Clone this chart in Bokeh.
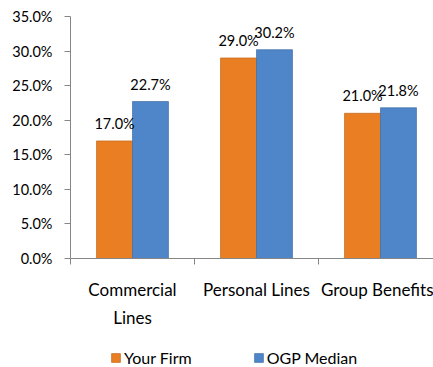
from bokeh.plotting import figure
from bokeh.layouts import column
from bokeh.models import FixedTicker, Range1d, Legend, LegendItem
from bokeh.embed import file_html
from bokeh.resources import INLINE

categories = ["Commercial Lines", "Personal Lines", "Group Benefits"]
tick_labels = ["Commercial\nLines", "Personal Lines", "Group Benefits"]
series_names = ["Your Firm", "OGP Median"]
your_firm = [17.0, 29.0, 21.0]
ogp_median = [22.7, 30.2, 21.8]
y_ticks = [0, 5, 10, 15, 20, 25, 30, 35]

FONT = "Lato"
ORANGE = "#E97F22"
ORANGE_EDGE = "#C4661A"
BLUE = "#4F86C9"
BLUE_EDGE = "#3F6EA6"
AXIS = "#868686"

p = figure(width=433, height=330, output_backend="svg", toolbar_location=None,
           x_range=Range1d(0, 363 / 124), y_range=Range1d(0, 35),
           min_border_left=70, min_border_right=0, min_border_top=16,
           min_border_bottom=72)
p.outline_line_color = None
p.xgrid.grid_line_color = None
p.ygrid.grid_line_color = None

n = len(categories)
centers = [i + 0.5 for i in range(n)]
bw = 0.29
x_firm = [c - bw / 2 for c in centers]
x_ogp = [c + bw / 2 for c in centers]

r1 = p.vbar(x=x_firm, top=your_firm, bottom=0, width=bw, fill_color=ORANGE,
            line_color=ORANGE_EDGE, line_width=0.7)
r2 = p.vbar(x=x_ogp, top=ogp_median, bottom=0, width=bw, fill_color=BLUE,
            line_color=BLUE_EDGE, line_width=0.7)

p.text(x=x_firm, y=your_firm, text=[f"{v:.1f}%" for v in your_firm],
       text_align="center", text_baseline="bottom", y_offset=-9,
       text_font={"value": FONT}, text_font_size="14.5px", text_color="black")
p.text(x=x_ogp, y=ogp_median, text=[f"{v:.1f}%" for v in ogp_median],
       text_align="center", text_baseline="bottom", y_offset=-9,
       text_font={"value": FONT}, text_font_size="14.5px", text_color="black")

# y axis
p.yaxis.ticker = FixedTicker(ticks=y_ticks)
p.yaxis.major_label_overrides = {t: f"{t:.1f}%" for t in y_ticks}
p.yaxis.major_tick_out = 6
p.yaxis.major_tick_in = 0
p.yaxis.minor_tick_line_color = None
p.yaxis.axis_line_color = AXIS
p.yaxis.major_tick_line_color = AXIS
p.yaxis.major_label_standoff = 12
p.yaxis.major_label_text_font = FONT
p.yaxis.major_label_text_font_size = "14.5px"
p.yaxis.major_label_text_color = "black"

# x axis
p.xaxis.ticker = FixedTicker(ticks=centers, minor_ticks=list(range(n + 1)))
p.xaxis.major_label_overrides = {c: lab for c, lab in zip(centers, tick_labels)}
p.xaxis.major_tick_out = 0
p.xaxis.major_tick_in = 0
p.xaxis.minor_tick_out = 6
p.xaxis.minor_tick_in = 0
p.xaxis.minor_tick_line_color = AXIS
p.xaxis.axis_line_color = AXIS
p.xaxis.major_label_standoff = 14
p.xaxis.major_label_text_font = FONT
p.xaxis.major_label_text_font_size = "17px"
p.xaxis.major_label_text_color = "black"
p.xaxis.major_label_text_line_height = 1.35

# legend strip (hidden copies of the series; only their legend swatches show)
p2 = figure(width=433, height=37, output_backend="svg", toolbar_location=None,
            x_range=Range1d(0, 363 / 124), y_range=Range1d(0, 35),
            x_axis_location=None, y_axis_location=None, min_border=0)
p2.outline_line_color = None
p2.grid.visible = False
l1 = p2.vbar(x=x_firm, top=your_firm, bottom=0, width=bw, fill_color=ORANGE,
             line_color=ORANGE_EDGE, line_width=0.7, visible=False)
l2 = p2.vbar(x=x_ogp, top=ogp_median, bottom=0, width=bw, fill_color=BLUE,
             line_color=BLUE_EDGE, line_width=0.7, visible=False)
legend = Legend(items=[LegendItem(label=series_names[0], renderers=[l1]),
                       LegendItem(label=series_names[1], renderers=[l2])],
                location=(40, 0), orientation="horizontal",
                glyph_width=11, glyph_height=11, label_height=15,
                spacing=61, label_standoff=3, padding=0, margin=0,
                border_line_color=None, background_fill_alpha=0,
                inactive_fill_alpha=0,
                label_text_font=FONT, label_text_font_size="16px",
                label_text_color="black")
p2.add_layout(legend, "center")

layout = column(p, p2, spacing=0)
open("out.html", "w").write(file_html(layout, INLINE))
